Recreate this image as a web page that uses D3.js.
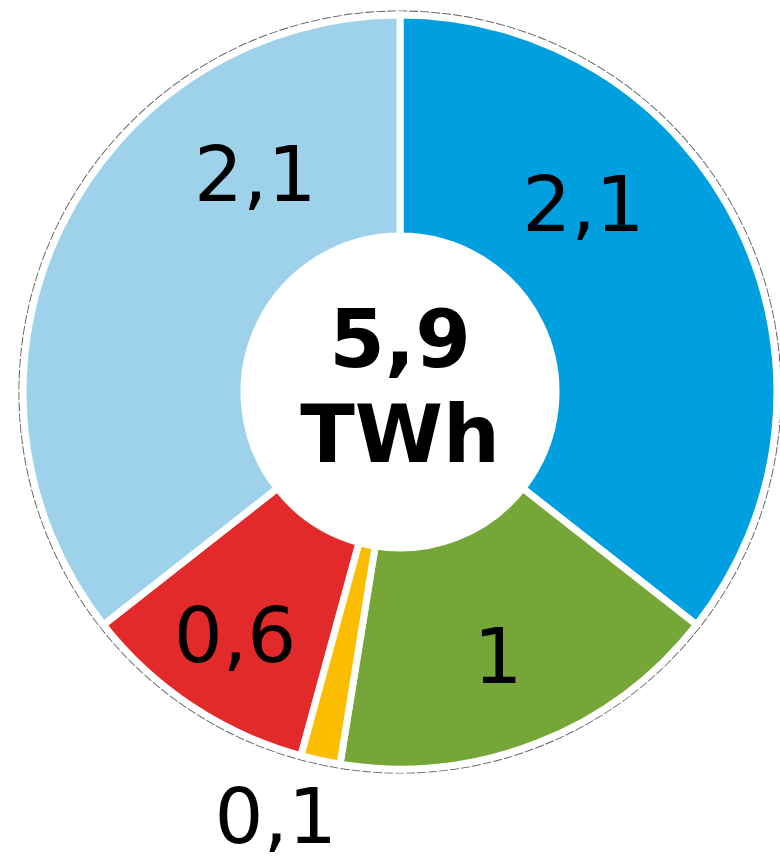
<!DOCTYPE html>
<html>
<head>
<meta charset="utf-8">
<script src="https://cdn.jsdelivr.net/npm/d3@7"></script>
<style>
  body { margin: 0; background: #fff; }
  svg { display: block; font-family: "DejaVu Sans", Verdana, sans-serif; }
</style>
</head>
<body>
<div class="donut"></div>
<script>
// slices clockwise from 12 o'clock
const names = ["blue", "green", "yellow", "red", "lightblue"];
const values = [2.1, 1, 0.1, 0.6, 2.1];
const labels = ["2,1", "1", "0,1", "0,6", "2,1"];
const colors = ["#009fdf", "#75a637", "#fbbd00", "#e22a2b", "#9dd2ea"];
const totalLabel = ["5,9", "TWh"];

// label placement (degrees from top, distance from centre), like the hand-placed excel labels
const labelAngle = [44, 159.5, 196.4, 214.4, 326.6];
const labelRadius = [264, 280, 440, 292, 263];

const width = 780;
const height = 865;
const cx = 400, cy = 392;

const svg = d3.select('.donut')
	.append('svg')
	.attr('width', width)
	.attr('height', height);

const g = svg.append('g').attr('transform', `translate(${cx},${cy})`);

// thin grey outline round the whole pie
g.append('circle')
	.attr('r', 381)
	.attr('fill', 'none')
	.attr('stroke', '#6e6e6e')
	.attr('stroke-width', 1.2)
	.attr('stroke-dasharray', '9,2');

const pie = d3.pie().sort(null).value(d => d);
const arcs = pie(values);

const arc = d3.arc()
	.innerRadius(156)
	.outerRadius(377);

g.selectAll('path')
	.data(arcs)
	.enter()
	.append('path')
	.attr('d', arc)
	.attr('fill', (d, i) => colors[i])
	.attr('stroke', '#fff')
	.attr('stroke-width', 7)
	.attr('stroke-linejoin', 'miter');

const rad = d3.scaleLinear().domain([0, 360]).range([0, 2 * Math.PI]);

g.selectAll('text.val')
	.data(arcs)
	.enter()
	.append('text')
	.attr('class', 'val')
	.attr('x', (d, i) => labelRadius[i] * Math.sin(rad(labelAngle[i])))
	.attr('y', (d, i) => -labelRadius[i] * Math.cos(rad(labelAngle[i])))
	.attr('dy', 29)
	.attr('text-anchor', 'middle')
	.attr('font-size', 77)
	.attr('fill', '#000')
	.text((d, i) => labels[i]);

g.append('text')
	.attr('y', -25)
	.attr('text-anchor', 'middle')
	.attr('font-size', 80)
	.attr('font-weight', 'bold')
	.text(totalLabel[0]);

g.append('text')
	.attr('y', 70)
	.attr('text-anchor', 'middle')
	.attr('font-size', 80)
	.attr('font-weight', 'bold')
	.text(totalLabel[1]);
</script>
</body>
</html>
